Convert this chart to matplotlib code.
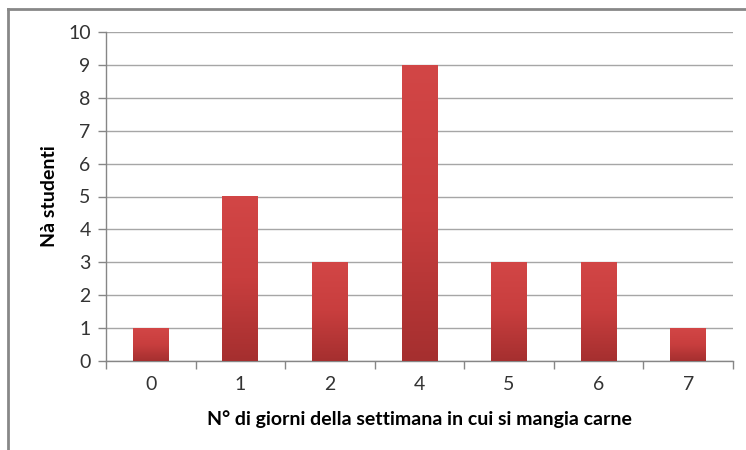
import matplotlib.pyplot as plt
import numpy as np
from matplotlib.colors import LinearSegmentedColormap

# data
giorni = ['0', '1', '2', '4', '5', '6', '7']
studenti = [1, 5, 3, 9, 3, 3, 1]

plt.rcParams['font.family'] = ['Lato', 'DejaVu Sans']

W, H = 746, 450
fig = plt.figure(figsize=(W / 100, H / 100), dpi=100)
fig.patch.set_facecolor('white')

ax = fig.add_axes([106 / W, 1 - 361 / H, (733 - 106) / W, (361 - 32) / H])
x = np.arange(len(giorni))
bars = ax.bar(x, studenti, width=0.4, color='#c43c3c', zorder=3)

# excel-like vertical gradient on each bar
cmap = LinearSegmentedColormap.from_list('red', ['#a52f2f', '#c83e3e', '#d24646'])
grad = np.linspace(0, 1, 256).reshape(-1, 1)
for b in bars:
    x0, y0 = b.get_x(), b.get_y()
    im = ax.imshow(grad, cmap=cmap, origin='lower', aspect='auto', zorder=4,
                   extent=[x0, x0 + b.get_width(), y0, y0 + b.get_height()])
    im.set_clip_path(b)

ax.set_xlim(-0.5, len(giorni) - 0.5)
ax.set_ylim(0, 10)
ax.set_yticks(range(0, 11))
ax.grid(axis='y', color='#a6a6a6', linewidth=1, zorder=0)

ax.set_xticks(np.arange(-0.5, len(giorni), 1), minor=False)
ax.set_xticklabels([])
ax.set_xticks(x, minor=True)
ax.set_xticklabels(giorni, minor=True)
ax.tick_params(axis='x', which='major', length=6, color='#868686', width=1)
ax.tick_params(axis='x', which='minor', length=0, pad=11, labelsize=14, labelcolor='#333333')
ax.tick_params(axis='y', length=6, color='#868686', width=1, labelsize=14,
               labelcolor='#333333', pad=5)

for s in ['top', 'right']:
    ax.spines[s].set_visible(False)
for s in ['left', 'bottom']:
    ax.spines[s].set_color('#868686')
    ax.spines[s].set_linewidth(1)
ax.set_facecolor('white')

ax.set_xlabel('N° di giorni della settimana in cui si mangia carne',
              fontsize=14, fontweight='bold', labelpad=12)
ax.set_ylabel('Nà studenti', fontsize=14, fontweight='bold', labelpad=7)

# chart frame
fig.add_artist(plt.Line2D([8 / W, 8 / W], [0, 1 - 9 / H], color='#888888', lw=2,
                          transform=fig.transFigure))
fig.add_artist(plt.Line2D([8 / W, 1], [1 - 9 / H, 1 - 9 / H], color='#888888', lw=2,
                          transform=fig.transFigure))

fig.savefig('out.png', dpi=100)
